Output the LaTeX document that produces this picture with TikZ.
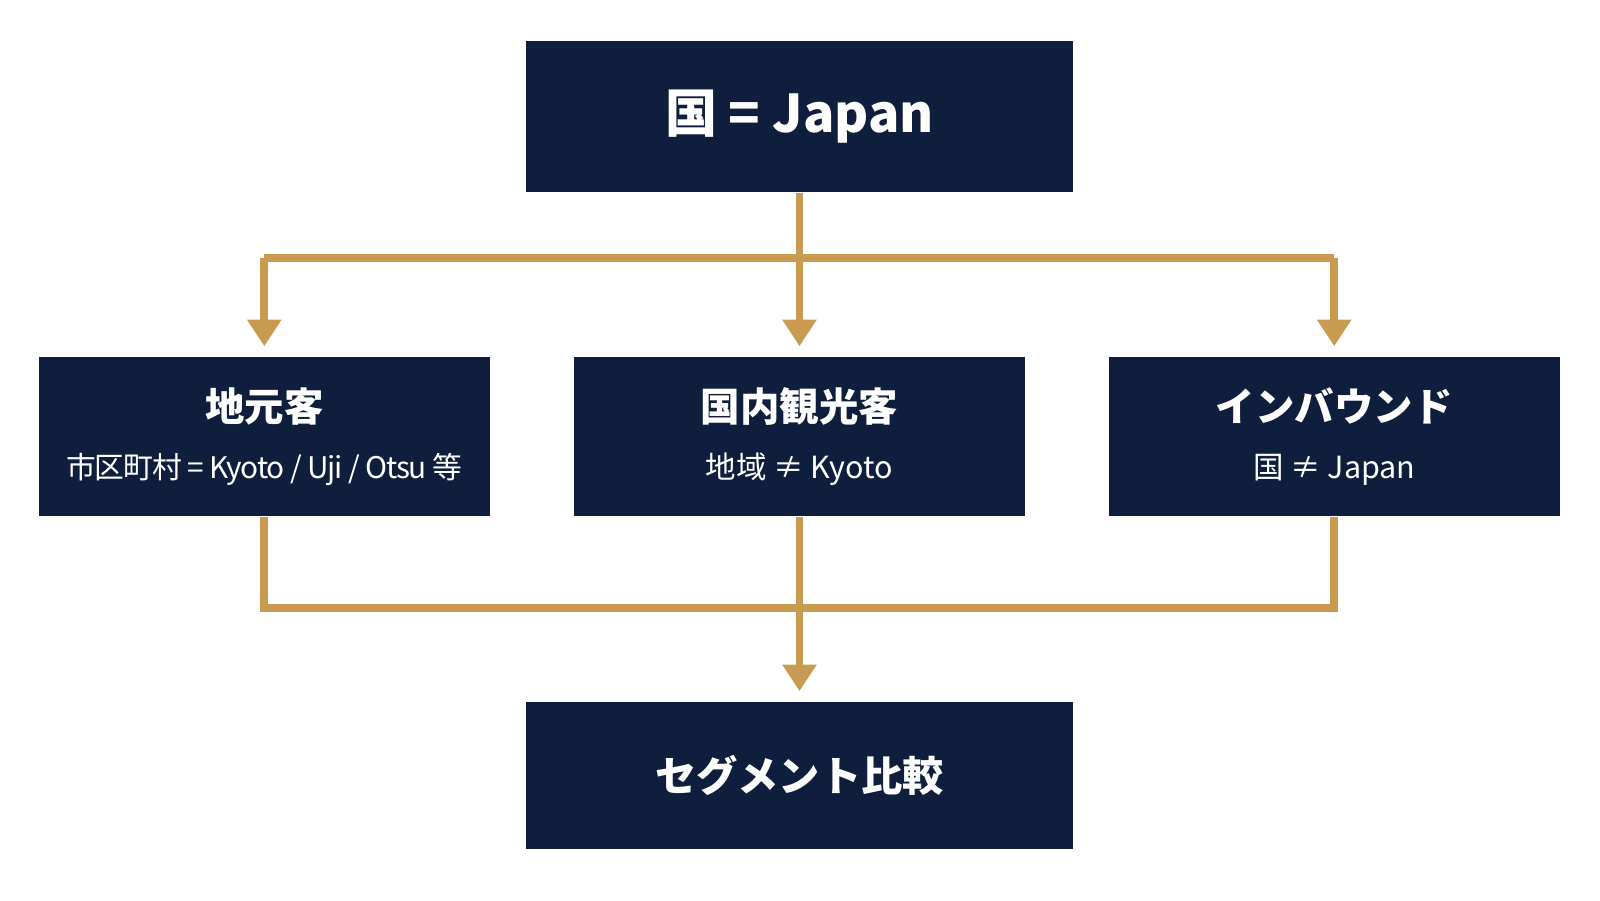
\documentclass[tikz,border=0pt]{standalone}
\usepackage{fontspec}
\setmainfont{Noto Sans CJK JP}
\usetikzlibrary{positioning,arrows.meta}
\definecolor{navy}{HTML}{0F1E3C}
\definecolor{gold}{HTML}{C99B50}
\tikzset{box/.style={rectangle,fill=navy,text=white,align=center,inner sep=0pt},
  link/.style={draw=gold,line width=2.2pt},
  arr/.style={link,-{Triangle[length=0.26cm,width=0.32cm]},shorten >=0.1cm}}
\begin{document}
\begin{tikzpicture}
    \useasboundingbox (0,0) rectangle (15.68,8.82);
    \node[box,minimum width=5.37cm,minimum height=1.48cm,font=\bfseries\fontsize{14.5}{17}\selectfont] (japan) at (7.835,7.68) {国 = Japan};
    \node[box,minimum width=4.42cm,minimum height=1.56cm] (local) at (2.59,4.54)
        {{\bfseries\fontsize{11}{13}\selectfont 地元客}\\[4pt]{\fontsize{8.3}{10}\selectfont\addfontfeature{LetterSpace=-4} 市区町村 = Kyoto / Uji / Otsu 等}};
    \node[box,minimum width=4.42cm,minimum height=1.56cm] (domestic) at (7.835,4.54)
        {{\bfseries\fontsize{11}{13}\selectfont 国内観光客}\\[4pt]{\fontsize{8.5}{10}\selectfont 地域 ≠ Kyoto}};
    \node[box,minimum width=4.42cm,minimum height=1.56cm] (inbound) at (13.075,4.54)
        {{\bfseries\fontsize{11}{13}\selectfont インバウンド}\\[4pt]{\fontsize{8.5}{10}\selectfont 国 ≠ Japan}};
    \node[box,minimum width=5.37cm,minimum height=1.44cm,font=\bfseries\fontsize{11.5}{14}\selectfont] (compare) at (7.835,1.22) {セグメント比較};

    \coordinate (split) at (7.835,6.29);
    \coordinate (merge) at (7.835,2.86);
    \draw[link] (japan) -- (split);
    \draw[link] (local |- split) -- (inbound |- split);
    \draw[arr] (local |- split) -- (local);
    \draw[arr] (split) -- (domestic);
    \draw[arr] (inbound |- split) -- (inbound);
    \draw[link] (local) -- (local |- merge) -- (inbound |- merge) -- (inbound);
    \draw[link] (domestic) -- (merge);
    \draw[arr] (merge) -- (compare);
\end{tikzpicture}
\end{document}
